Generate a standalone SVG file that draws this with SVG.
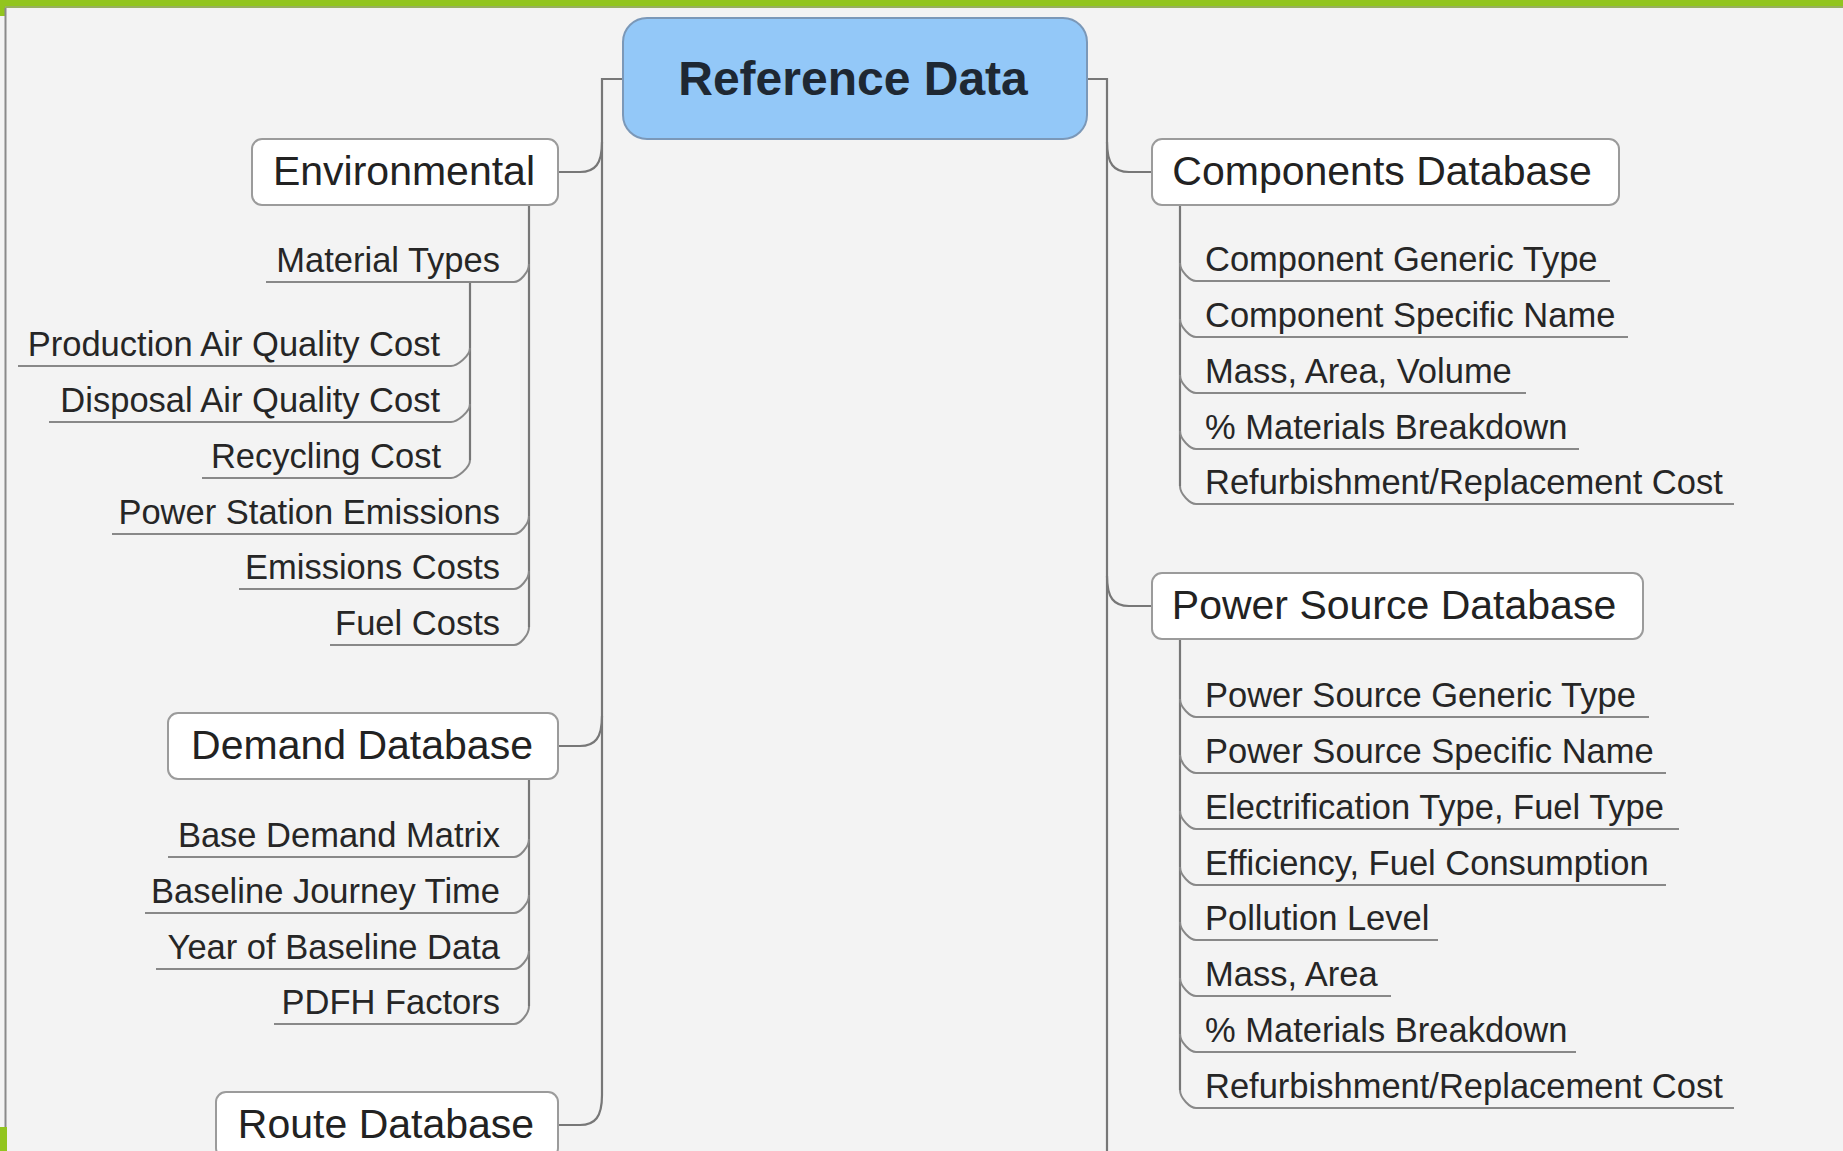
<svg xmlns="http://www.w3.org/2000/svg" width="1843" height="1151" viewBox="0 0 1843 1151">
<style>
.bg{fill:#f3f3f3}
.box{fill:#fff;stroke:#9b9b9b;stroke-width:2}
.root{fill:#93c8f8;stroke:#7b98b8;stroke-width:2}
.cat{font-family:"Liberation Sans",Arial,sans-serif;font-size:41px;fill:#222}
.sub{font-family:"Liberation Sans",Arial,sans-serif;font-size:34.5px;fill:#262626}
.rt{font-family:"Liberation Sans",Arial,sans-serif;font-size:48px;font-weight:bold;fill:#1e2833}
.ln{fill:none;stroke:#777;stroke-width:2.2}
.ul{fill:none;stroke:#888;stroke-width:2}
.green{fill:#92c51e}
</style>
<rect class="bg" x="0" y="0" width="1843" height="1151"/>
<g id="frame">
<rect class="green" x="0" y="0" width="1843" height="6"/>
<line x1="0" y1="7" x2="1843" y2="7" stroke="#7a9a2c" stroke-width="1.5"/>
<rect class="green" x="0" y="0" width="5" height="16"/>
<line x1="5.5" y1="8" x2="5.5" y2="1151" stroke="#8a8a8a" stroke-width="2"/>
<rect class="green" x="0" y="1127" width="7" height="24"/>
</g>
<g id="connectors">
<path class="ln" d="M623,79 H602 V1095"/>
<path class="ln" d="M602,142 C602,164 595,172 580,172 H558"/>
<path class="ln" d="M602,716 C602,738 595,746 580,746 H558"/>
<path class="ln" d="M602,1095 C602,1117 595,1125 580,1125 H558"/>
<path class="ln" d="M1087,79 H1107 V1151"/>
<path class="ln" d="M1107,142 C1107,164 1114,172 1129,172 H1152"/>
<path class="ln" d="M1107,576 C1107,598 1114,606 1129,606 H1152"/>
<path class="ln" d="M529,205 V627"/>
<path class="ln" d="M470,282 V460"/>
<path class="ln" d="M529,779 V1006"/>
<path class="ln" d="M1180,205 V486"/>
<path class="ln" d="M1180,639 V1090"/>
<path class="ul" d="M266,282 H514 C520,282 529,272 529,264"/>
<path class="ul" d="M18,366 H451 C457,366 470,356 470,348"/>
<path class="ul" d="M49,422 H451 C457,422 470,412 470,404"/>
<path class="ul" d="M202,478 H451 C457,478 470,468 470,460"/>
<path class="ul" d="M112,534 H514 C520,534 529,524 529,516"/>
<path class="ul" d="M239,589 H514 C520,589 529,579 529,571"/>
<path class="ul" d="M330,645 H514 C520,645 529,635 529,627"/>
<path class="ul" d="M168,857 H514 C520,857 529,847 529,839"/>
<path class="ul" d="M145,913 H514 C520,913 529,903 529,895"/>
<path class="ul" d="M156,969 H514 C520,969 529,959 529,951"/>
<path class="ul" d="M274,1024 H514 C520,1024 529,1014 529,1006"/>
<path class="ul" d="M1180,263 C1180,271 1190,281 1196,281 H1610"/>
<path class="ul" d="M1180,319 C1180,327 1190,337 1196,337 H1628"/>
<path class="ul" d="M1180,375 C1180,383 1190,393 1196,393 H1526"/>
<path class="ul" d="M1180,431 C1180,439 1190,449 1196,449 H1579"/>
<path class="ul" d="M1180,486 C1180,494 1190,504 1196,504 H1734"/>
<path class="ul" d="M1180,699 C1180,707 1190,717 1196,717 H1649"/>
<path class="ul" d="M1180,755 C1180,763 1190,773 1196,773 H1666"/>
<path class="ul" d="M1180,811 C1180,819 1190,829 1196,829 H1679"/>
<path class="ul" d="M1180,867 C1180,875 1190,885 1196,885 H1666"/>
<path class="ul" d="M1180,922 C1180,930 1190,940 1196,940 H1438"/>
<path class="ul" d="M1180,978 C1180,986 1190,996 1196,996 H1391"/>
<path class="ul" d="M1180,1034 C1180,1042 1190,1052 1196,1052 H1576"/>
<path class="ul" d="M1180,1090 C1180,1098 1190,1108 1196,1108 H1734"/>
</g>
<g id="root">
<rect class="root" x="623" y="18" width="464" height="121" rx="24"/>
<text class="rt" x="853" y="95" text-anchor="middle">Reference Data</text>
</g>
<g id="environmental">
<rect class="box" x="252" y="139" width="306" height="66" rx="10"/>
<text class="cat" x="404" y="185" text-anchor="middle">Environmental</text>
</g>
<g id="demand-database">
<rect class="box" x="168" y="713" width="390" height="66" rx="10"/>
<text class="cat" x="362" y="759" text-anchor="middle">Demand Database</text>
</g>
<g id="route-database">
<rect class="box" x="216" y="1092" width="342" height="66" rx="10"/>
<text class="cat" x="386" y="1138" text-anchor="middle">Route Database</text>
</g>
<g id="components-database">
<rect class="box" x="1152" y="139" width="467" height="66" rx="10"/>
<text class="cat" x="1382" y="185" text-anchor="middle">Components Database</text>
</g>
<g id="power-source-database">
<rect class="box" x="1152" y="573" width="491" height="66" rx="10"/>
<text class="cat" x="1394" y="619" text-anchor="middle">Power Source Database</text>
</g>
<g id="env-items" class="sub">
<g id="material-types"><text x="500" y="272" text-anchor="end">Material Types</text></g>
<g id="production-aq"><text x="440" y="356" text-anchor="end">Production Air Quality Cost</text></g>
<g id="disposal-aq"><text x="440" y="412" text-anchor="end">Disposal Air Quality Cost</text></g>
<g id="recycling"><text x="441" y="468" text-anchor="end">Recycling Cost</text></g>
<g id="power-station"><text x="500" y="524" text-anchor="end">Power Station Emissions</text></g>
<g id="emissions-costs"><text x="500" y="579" text-anchor="end">Emissions Costs</text></g>
<g id="fuel-costs"><text x="500" y="635" text-anchor="end">Fuel Costs</text></g>
</g>
<g id="demand-items" class="sub">
<g id="base-demand"><text x="500" y="847" text-anchor="end">Base Demand Matrix</text></g>
<g id="baseline-journey"><text x="500" y="903" text-anchor="end">Baseline Journey Time</text></g>
<g id="year-baseline"><text x="500" y="959" text-anchor="end">Year of Baseline Data</text></g>
<g id="pdfh"><text x="500" y="1014" text-anchor="end">PDFH Factors</text></g>
</g>
<g id="comp-items" class="sub">
<g id="comp-generic"><text x="1205" y="271">Component Generic Type</text></g>
<g id="comp-specific"><text x="1205" y="327">Component Specific Name</text></g>
<g id="comp-mass"><text x="1205" y="383">Mass, Area, Volume</text></g>
<g id="comp-materials"><text x="1205" y="439">% Materials Breakdown</text></g>
<g id="comp-refurb"><text x="1205" y="494">Refurbishment/Replacement Cost</text></g>
</g>
<g id="power-items" class="sub">
<g id="ps-generic"><text x="1205" y="707">Power Source Generic Type</text></g>
<g id="ps-specific"><text x="1205" y="763">Power Source Specific Name</text></g>
<g id="ps-electrification"><text x="1205" y="819">Electrification Type, Fuel Type</text></g>
<g id="ps-efficiency"><text x="1205" y="875">Efficiency, Fuel Consumption</text></g>
<g id="ps-pollution"><text x="1205" y="930">Pollution Level</text></g>
<g id="ps-mass"><text x="1205" y="986">Mass, Area</text></g>
<g id="ps-materials"><text x="1205" y="1042">% Materials Breakdown</text></g>
<g id="ps-refurb"><text x="1205" y="1098">Refurbishment/Replacement Cost</text></g>
</g>
</svg>
